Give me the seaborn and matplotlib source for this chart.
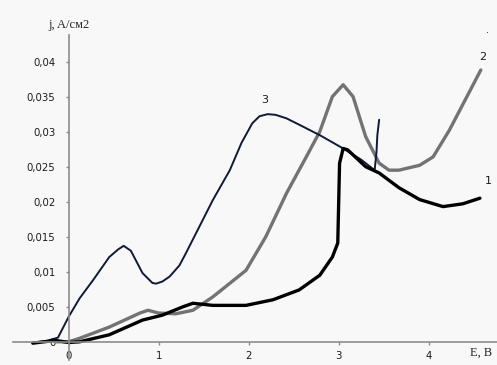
import numpy as np
import pandas as pd
import seaborn as sns
import matplotlib
matplotlib.use("Agg")
import matplotlib.pyplot as plt
from matplotlib.ticker import FuncFormatter

# curve 1 (black, thick)
E1 = [-0.40, -0.15, 0.0, 0.12, 0.45, 0.82, 1.04, 1.27, 1.38, 1.60, 1.97, 2.27, 2.56,
      2.79, 2.93, 2.99, 3.00, 3.01, 3.05, 3.10, 3.30, 3.45, 3.67, 3.90, 4.16, 4.38, 4.57]
j1 = [-0.0002, 0.0002, -0.0001, 0.0, 0.0010, 0.0031, 0.0038, 0.0050, 0.0055, 0.0052,
      0.0052, 0.0060, 0.0074, 0.0095, 0.0121, 0.0141, 0.0198, 0.0255, 0.0276, 0.0274,
      0.0250, 0.0241, 0.0220, 0.0203, 0.0193, 0.0197, 0.0205]

# curve 2 (gray, thick)
E2 = [-0.15, 0.0, 0.12, 0.45, 0.79, 0.88, 1.00, 1.19, 1.38, 1.60, 1.97, 2.19, 2.42,
      2.64, 2.79, 2.93, 3.05, 3.16, 3.30, 3.45, 3.56, 3.67, 3.90, 4.05, 4.23, 4.58]
j2 = [0.0, 0.0, 0.0005, 0.0021, 0.0041, 0.0045, 0.0041, 0.0040, 0.0045, 0.0064, 0.0102,
      0.0150, 0.0212, 0.0264, 0.0300, 0.0350, 0.0367, 0.0350, 0.0293, 0.0255, 0.0245,
      0.0245, 0.0252, 0.0264, 0.0302, 0.0388]

# curve 3 (dark navy, thin)
E3 = [-0.40, -0.25, -0.12, 0.0, 0.12, 0.27, 0.45, 0.55, 0.61, 0.69, 0.82, 0.93, 0.97,
      1.04, 1.12, 1.23, 1.30, 1.45, 1.60, 1.79, 1.92, 2.04, 2.12, 2.21, 2.30, 2.42,
      2.56, 2.79, 3.05, 3.25, 3.40, 3.42, 3.43, 3.45]
j3 = [-0.0001, 0.0001, 0.0006, 0.0036, 0.0062, 0.0088, 0.0121, 0.0132, 0.0137, 0.0130,
      0.0098, 0.0084, 0.0083, 0.0086, 0.0093, 0.0109, 0.0126, 0.0164, 0.0202, 0.0245,
      0.0284, 0.0312, 0.0322, 0.0325, 0.0324, 0.0319, 0.0310, 0.0295, 0.0276, 0.0260,
      0.0245, 0.0270, 0.0295, 0.0317]

labels = ["1", "2", "3"]
label_pos = [(4.66, 0.0230), (4.60, 0.0407), (2.18, 0.0345)]
xticks = [0, 1, 2, 3, 4]
yticks = [0, 0.005, 0.01, 0.015, 0.02, 0.025, 0.03, 0.035, 0.04]

sns.set_style("white")
plt.rcParams['font.family'] = ['DejaVu Sans']

fig = plt.figure(figsize=(4.97, 3.65), dpi=100)
fig.patch.set_facecolor('#f8f8f8')
ax = fig.add_axes([13 / 497, 5 / 365, 484 / 497, 325 / 365])
ax.set_facecolor('#f8f8f8')

d2 = pd.DataFrame({"E": E2, "j": j2})
d3 = pd.DataFrame({"E": E3, "j": j3})
d1 = pd.DataFrame({"E": E1, "j": j1})
sns.lineplot(data=d2, x="E", y="j", sort=False, estimator=None, color='#737373', lw=2.4, ax=ax)
sns.lineplot(data=d3, x="E", y="j", sort=False, estimator=None, color='#0f1a38', lw=1.4, ax=ax)
sns.lineplot(data=d1, x="E", y="j", sort=False, estimator=None, color='#000000', lw=2.4, ax=ax)

ax.set_xlim(-0.62, 4.76)
ax.set_ylim(-0.0026, 0.0438)

for s in ['top', 'right']:
    ax.spines[s].set_visible(False)
ax.spines['left'].set_position(('data', 0))
ax.spines['bottom'].set_position(('data', 0))
for s in ['left', 'bottom']:
    ax.spines[s].set_color('#8c8c8c')
    ax.spines[s].set_linewidth(1.2)

ax.set_xticks(xticks)
ax.set_yticks(yticks)
fmt = FuncFormatter(lambda v, p: ('%g' % round(v, 4)).replace('.', ','))
ax.xaxis.set_major_formatter(fmt)
ax.yaxis.set_major_formatter(fmt)
ax.tick_params(axis='both', direction='out', length=2.5, width=1, color='#8c8c8c',
               labelsize=7.3, labelcolor='#1a1a1a', left=True, bottom=True)
ax.tick_params(axis='y', pad=7)
ax.tick_params(axis='x', pad=4)
ax.set_xlabel("")
ax.set_ylabel("")

ax.text(0, 0.0452, "j, A/см2", ha='center', va='center', fontsize=9,
        family='Liberation Serif', clip_on=False)
ax.text(4.58, -0.0016, "E, B", ha='center', va='center', fontsize=9,
        family='Liberation Serif', clip_on=False)
for lab, (x, y) in zip(labels, label_pos):
    ax.text(x, y, lab, ha='center', va='center', fontsize=8, color='#1a1a1a', clip_on=False)
ax.text(4.65, 0.0445, ".", ha='center', va='center', fontsize=7, clip_on=False)

fig.savefig("out.png", dpi=100, facecolor=fig.get_facecolor())
